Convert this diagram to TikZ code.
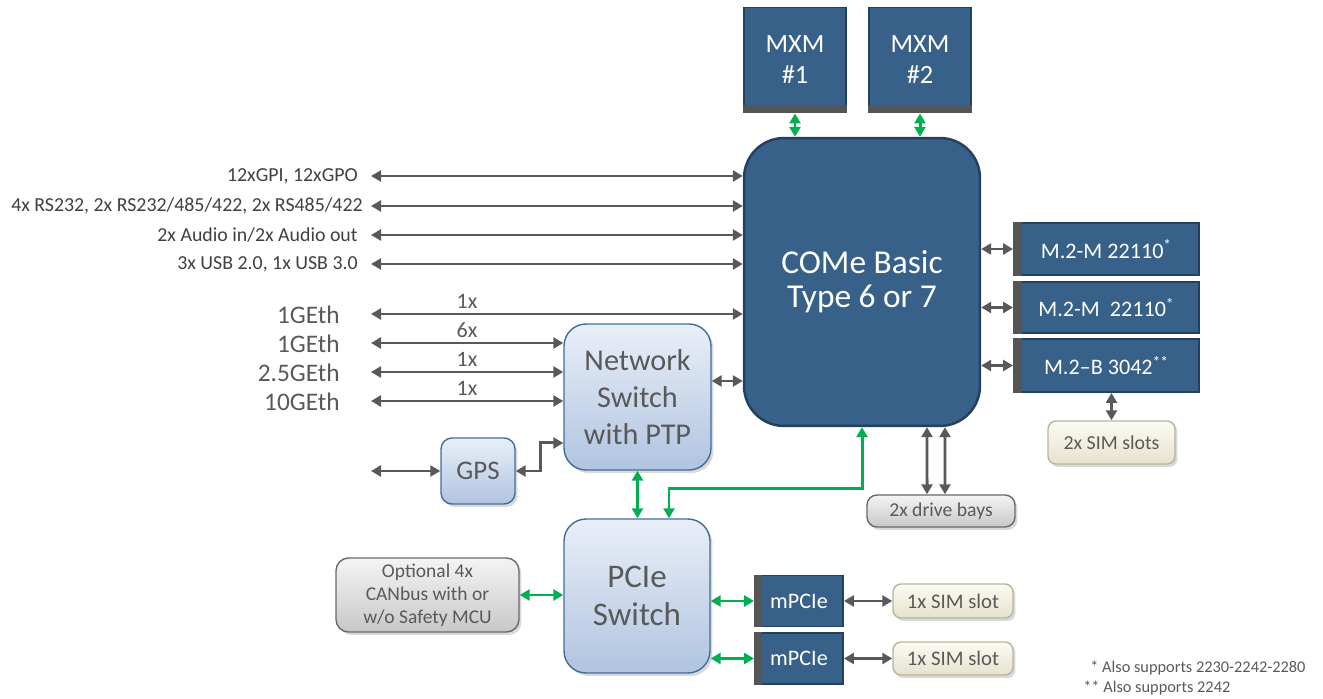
\documentclass[tikz,border=0pt]{standalone}
\usepackage{fontspec}
\setmainfont{Carlito}
\usetikzlibrary{arrows.meta,shadows,calc}
\definecolor{dblue}{RGB}{56,97,137}
\definecolor{dborder}{RGB}{36,64,96}
\definecolor{barc}{RGB}{85,85,85}
\definecolor{ltop}{RGB}{233,239,248}
\definecolor{lbot}{RGB}{176,196,224}
\definecolor{lborder}{RGB}{65,110,152}
\definecolor{gtop}{RGB}{244,244,244}
\definecolor{gbot}{RGB}{200,200,200}
\definecolor{gborder}{RGB}{105,105,105}
\definecolor{btop}{RGB}{252,251,244}
\definecolor{bbot}{RGB}{230,226,206}
\definecolor{bborder}{RGB}{185,181,155}
\definecolor{agray}{RGB}{89,89,89}
\definecolor{agreen}{RGB}{0,176,80}
\definecolor{tgray}{RGB}{89,89,89}
\definecolor{ldark}{RGB}{64,64,64}
\newcommand{\fs}[2]{\fontsize{#1}{#2}\selectfont}
\begin{document}
\begin{tikzpicture}[x=0.02cm,y=-0.02cm,
  shad/.style={drop shadow={opacity=0.3,shadow xshift=0.05cm,shadow yshift=-0.06cm}},
  dbox/.style={draw=dborder,line width=1.1pt,fill=dblue,text=white,inner sep=0pt,align=center},
  lbox/.style={draw=lborder,line width=0.8pt,top color=ltop,bottom color=lbot,text=tgray,inner sep=0pt,align=center,shad},
  gbox/.style={draw=gborder,line width=0.8pt,top color=gtop,bottom color=gbot,text=tgray,inner sep=0pt,align=center,rounded corners=0.2cm,shad},
  bbox/.style={draw=bborder,line width=0.8pt,top color=btop,bottom color=bbot,text=tgray,inner sep=0pt,align=center,rounded corners=0.16cm,shad},
  darrow/.style={draw=agray,line width=1.7pt,{Triangle[length=2mm,width=2.2mm]}-{Triangle[length=2mm,width=2.2mm]}},
  garrow/.style={draw=agreen,line width=1.7pt,{Triangle[length=2mm,width=2.2mm]}-{Triangle[length=2mm,width=2.2mm]}},
  ltext/.style={text=ldark,inner sep=0pt,font=\fs{11.3}{13}},
  etext/.style={text=tgray,inner sep=0pt,font=\fs{14.4}{16}},
  xtext/.style={text=tgray,inner sep=0pt,font=\fs{12.5}{14}},
  bar/.style={fill=barc}
]
\useasboundingbox (0,0) rectangle (1323,699);

% MXM modules
\node[dbox,minimum width=2.04cm,minimum height=2.1cm,font=\fs{15}{17.6}] (mxm1) at (795,60) {MXM\\\#1};
\fill[bar] ([yshift=0.16cm]mxm1.south west) rectangle (mxm1.south east);
\node[dbox,minimum width=2.04cm,minimum height=2.1cm,font=\fs{15}{17.6}] (mxm2) at (920,60) {MXM\\\#2};
\fill[bar] ([yshift=0.16cm]mxm2.south west) rectangle (mxm2.south east);

% COMe
\node[dbox,line width=1.4pt,rounded corners=0.8cm,minimum width=4.72cm,minimum height=5.76cm,font=\fs{19}{21}] (come) at (862,282) {\raisebox{-1.5pt}{COMe Basic}\\Type 6 or 7};

\draw[garrow] (mxm1.south) -- (mxm1.south |- come.north);
\draw[garrow] (mxm2.south) -- (mxm2.south |- come.north);

% M.2 modules
\node[dbox,minimum width=3.7cm,minimum height=1.04cm,font=\fs{12.6}{14}] (m2a) at (1106.5,249) {M.2-M 22110\textsuperscript{*}};
\fill[bar] (m2a.north west) rectangle ([xshift=0.18cm]m2a.south west);
\node[dbox,minimum width=3.7cm,minimum height=1.02cm,font=\fs{12.6}{14}] (m2b) at (1106.5,307.5) {M.2-M~ 22110\textsuperscript{*}};
\fill[bar] (m2b.north west) rectangle ([xshift=0.18cm]m2b.south west);
\node[dbox,minimum width=3.7cm,minimum height=1.06cm,font=\fs{12.6}{14}] (m2c) at (1106.5,365.5) {M.2–B 3042\textsuperscript{**}};
\fill[bar] (m2c.north west) rectangle ([xshift=0.18cm]m2c.south west);

\draw[darrow] (m2a.west -| come.east) -- (m2a.west);
\draw[darrow] (m2b.west -| come.east) -- (m2b.west);
\draw[darrow] (m2c.west -| come.east) -- (m2c.west);

\node[bbox,minimum width=2.54cm,minimum height=0.86cm,font=\fs{11.3}{13}] (sims) at (1111.5,442.5) {2x SIM slots};
\draw[darrow] (sims.north |- m2c.south) -- (sims.north);

% drive bays
\node[gbox,minimum width=2.96cm,minimum height=0.64cm,font=\fs{11.2}{13}] (drive) at (941,511) {2x drive bays};
\draw[darrow] ([xshift=1.3cm]come.south) -- ([xshift=-0.28cm]drive.north);
\draw[darrow] ([xshift=1.66cm]come.south) -- ([xshift=0.08cm]drive.north);

% left interface labels
\node[ltext,anchor=east] (t1) at (358,176) {12xGPI, 12xGPO};
\node[ltext,anchor=east] (t2) at (363,206) {4x RS232, 2x RS232/485/422, 2x RS485/422};
\node[ltext,anchor=east] (t3) at (358,235) {2x Audio in/2x Audio out};
\node[ltext,anchor=east] (t4) at (358,264) {3x USB 2.0, 1x USB 3.0};
\coordinate (c1) at (371,176);
\coordinate (c2) at (371,206);
\coordinate (c3) at (371,235);
\coordinate (c4) at (371,264);
\draw[darrow] (c1) -- (c1 -| come.west);
\draw[darrow] (c2) -- (c2 -| come.west);
\draw[darrow] (c3) -- (c3 -| come.west);
\draw[darrow] (c4) -- (c4 -| come.west);

% Network switch
\node[lbox,rounded corners=0.44cm,minimum width=2.94cm,minimum height=2.92cm,font=\fs{17.2}{21}] (netsw) at (637.5,397) {Network\\Switch\\with PTP};

\node[etext,anchor=east] (e1) at (340,315) {1GEth};
\node[etext,anchor=east] (e2) at (340,344) {1GEth};
\node[etext,anchor=east] (e3) at (340,373) {2.5GEth};
\node[etext,anchor=east] (e4) at (340,402) {10GEth};
\coordinate (g1) at (371,314);
\coordinate (g2) at (371,343);
\coordinate (g3) at (371,372);
\coordinate (g4) at (371,401);
\draw[darrow] (g1) -- (g1 -| come.west);
\draw[darrow] (g2) -- (g2 -| netsw.west);
\draw[darrow] (g3) -- (g3 -| netsw.west);
\draw[darrow] (g4) -- (g4 -| netsw.west);
\node[xtext] (x1) at (467,301) {1x};
\node[xtext] (x2) at (467,330) {6x};
\node[xtext] (x3) at (467,359) {1x};
\node[xtext] (x4) at (467,388) {1x};

\coordinate (ns) at ([yshift=0.32cm]netsw.east);
\draw[darrow] (ns) -- (ns -| come.west);

% GPS
\node[lbox,rounded corners=0.22cm,minimum width=1.48cm,minimum height=1.32cm,font=\fs{15.3}{16}] (gps) at (478,471) {GPS};
\coordinate (gin) at (371,471);
\draw[darrow] (gin) -- (gps.west);
\coordinate (gj) at ([yshift=-0.92cm]netsw.west);
\draw[darrow] (gps.east) -- ++(25,0) |- (gj);

% PCIe switch
\node[lbox,rounded corners=0.44cm,minimum width=2.92cm,minimum height=3.08cm,font=\fs{18.8}{22}] (pcie) at (637,596) {PCIe\\Switch};
\draw[garrow] (netsw.south) -- (netsw.south |- pcie.north);
\draw[garrow] (come.south) -- ++(0,61) -| ([xshift=0.64cm]pcie.north);

% CAN
\node[gbox,rounded corners=0.25cm,minimum width=3.66cm,minimum height=1.48cm,font=\fs{11.1}{13}] (can) at (427.5,595) {\raisebox{0pt}{Optional 4x}\\CANbus with or\\w/o Safety MCU};
\draw[garrow] (can.east) -- (can.east -| pcie.west);

% mPCIe
\node[dbox,minimum width=1.76cm,minimum height=1.02cm,font=\fs{12.6}{14}] (mp1) at (799,601) {mPCIe};
\fill[bar] (mp1.north west) rectangle ([xshift=0.16cm]mp1.south west);
\node[dbox,minimum width=1.76cm,minimum height=1.02cm,font=\fs{12.6}{14}] (mp2) at (799,658.5) {mPCIe};
\fill[bar] (mp2.north west) rectangle ([xshift=0.16cm]mp2.south west);
\draw[garrow] (mp1.west -| pcie.east) -- (mp1.west);
\draw[garrow] (mp2.west -| pcie.east) -- (mp2.west);

\node[bbox,minimum width=2.4cm,minimum height=0.68cm,font=\fs{11.8}{13}] (sim1) at (953,601) {1x SIM slot};
\node[bbox,minimum width=2.4cm,minimum height=0.66cm,font=\fs{11.8}{13}] (sim2) at (953,658.5) {1x SIM slot};
\draw[darrow] (mp1.east) -- (sim1.west);
\draw[darrow] (mp2.east) -- (sim2.west);

% footnotes
\node[ltext,text=tgray,font=\fs{9.3}{11},anchor=west] (f1) at (1090,668) {* Also supports 2230-2242-2280};
\node[ltext,text=tgray,font=\fs{9.3}{11},anchor=west] (f2) at (1083,688) {** Also supports 2242};
\end{tikzpicture}
\end{document}
